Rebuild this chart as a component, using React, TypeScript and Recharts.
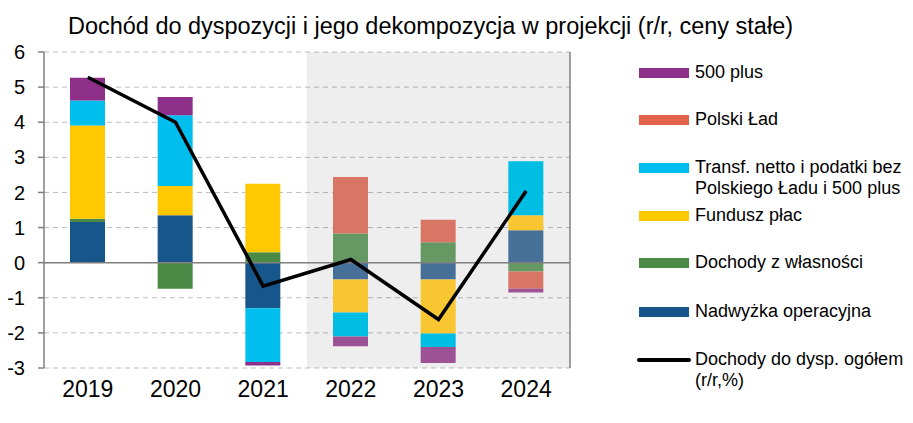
import { Bar, CartesianGrid, Cell, ComposedChart, Line, ReferenceArea, ReferenceLine, XAxis, YAxis } from 'recharts';

// lata i składowe (pp, r/r)
const years = ['2019', '2020', '2021', '2022', '2023', '2024'];
const nadwyzka = [1.16, 1.35, -1.3, -0.48, -0.48, 0.92];
const wlasnosc = [0.09, -0.74, 0.3, 0.83, 0.58, -0.25];
const fundusz = [2.66, 0.83, 1.95, -0.94, -1.54, 0.43];
const transfery = [0.71, 2.02, -1.53, -0.68, -0.38, 1.54];
const polskiLad = [0, 0, 0, 1.61, 0.64, -0.49];
const plus500 = [0.65, 0.52, -0.1, -0.28, -0.46, -0.11];
const ogolem = [5.28, 4.0, -0.67, 0.09, -1.62, 2.04];
const yTicks = [-3, -2, -1, 0, 1, 2, 3, 4, 5, 6];
const firstForecast = '2022';

const data = years.map((year, i) => ({
	year,
	nadwyzka: nadwyzka[i],
	wlasnosc: wlasnosc[i],
	fundusz: fundusz[i],
	transfery: transfery[i],
	polskiLad: polskiLad[i],
	plus500: plus500[i],
	ogolem: ogolem[i],
}));

// [kolor historyczny, kolor prognozy]
const series = [
	{ key: 'nadwyzka', name: 'Nadwyżka operacyjna', colors: ['#17568A', '#477099'] },
	{ key: 'wlasnosc', name: 'Dochody z własności', colors: ['#4A8A45', '#659862'] },
	{ key: 'fundusz', name: 'Fundusz płac', colors: ['#FFC800', '#F8C630'] },
	{ key: 'transfery', name: 'Transf. netto i podatki bez Polskiego Ładu i 500 plus', colors: ['#00BFEE', '#00BDE3'] },
	{ key: 'polskiLad', name: 'Polski Ład', colors: ['#E0624A', '#D87565'] },
	{ key: 'plus500', name: '500 plus', colors: ['#8E2F8A', '#9C5295'] },
];

const legendItems = [
	{ lines: ['500 plus'], color: '#8E2F8A', y: 73 },
	{ lines: ['Polski Ład'], color: '#E0624A', y: 120 },
	{ lines: ['Transf. netto i podatki bez', 'Polskiego Ładu i 500 plus'], color: '#00BFEE', y: 168 },
	{ lines: ['Fundusz płac'], color: '#FFC800', y: 216 },
	{ lines: ['Dochody z własności'], color: '#4A8A45', y: 263 },
	{ lines: ['Nadwyżka operacyjna'], color: '#17568A', y: 312 },
	{ lines: ['Dochody do dysp. ogółem', '(r/r,%)'], color: '#000', y: 360, line: true },
];

const font = 'Liberation Sans, Arial, sans-serif';

export default function App() {
	const forecastStart = years.indexOf(firstForecast);
	return (
		<div style={{ position: 'absolute', left: 0, top: 0, width: 913, height: 423, background: '#fff', fontFamily: font }}>
			<svg width={913} height={45} style={{ position: 'absolute', left: 0, top: 0 }}>
				<text x={68} y={34} fontSize={23} fontFamily={font} fill='#000' textLength={725} lengthAdjust='spacingAndGlyphs'>
					Dochód do dyspozycji i jego dekompozycja w projekcji (r/r, ceny stałe)
				</text>
			</svg>
			<ComposedChart
				width={913}
				height={423}
				data={data}
				stackOffset='sign'
				margin={{ top: 52, right: 303, bottom: 15, left: 4 }}>
				<ReferenceArea
					x1={firstForecast}
					yAxisId='left'
					fill='#000'
					fillOpacity={0.065}
					stroke='none'
				/>
				<CartesianGrid
					yAxisId='left'
					vertical={false}
					stroke='#BDBDBD'
					strokeDasharray='5 4'
				/>
				<XAxis
					dataKey='year'
					height={40}
					axisLine={false}
					tickLine={false}
					tickSize={0}
					tickMargin={13}
					tick={{ fontSize: 23, fill: '#000', fontFamily: font }}
				/>
				<YAxis
					yAxisId='left'
					width={40}
					domain={[-3, 6]}
					ticks={yTicks}
					interval={0}
					axisLine={{ stroke: '#808080', strokeWidth: 1.5 }}
					tickLine={{ stroke: '#808080', strokeWidth: 1.5 }}
					tickSize={6}
					tickMargin={13}
					tick={{ fontSize: 20, fill: '#000', fontFamily: font }}
				/>
				<YAxis
					yAxisId='right'
					orientation='right'
					width={40}
					domain={[-3, 6]}
					ticks={yTicks}
					interval={0}
					axisLine={{ stroke: '#808080', strokeWidth: 1.5 }}
					tickLine={{ stroke: '#808080', strokeWidth: 1.5 }}
					tickSize={6}
					tickMargin={13}
					tick={{ fontSize: 20, fill: '#000', fontFamily: font, textAnchor: 'start' }}
				/>
				{series.map((s) => (
					<Bar
						key={s.key}
						dataKey={s.key}
						name={s.name}
						yAxisId='left'
						stackId='a'
						barSize={35}
						isAnimationActive={false}>
						{data.map((d, index) => (
							<Cell
								key={`cell-${s.key}-${index}`}
								fill={index >= forecastStart ? s.colors[1] : s.colors[0]}
							/>
						))}
					</Bar>
				))}
				<ReferenceLine
					y={0}
					yAxisId='left'
					stroke='#808080'
					strokeWidth={1.5}
				/>
				<Line
					dataKey='ogolem'
					name='Dochody do dysp. ogółem (r/r,%)'
					yAxisId='left'
					stroke='#000'
					strokeWidth={3.5}
					dot={false}
					activeDot={false}
					isAnimationActive={false}
				/>
			</ComposedChart>
			<div style={{ position: 'absolute', left: 0, top: 0 }}>
				{legendItems.map((item) => (
					<div key={item.lines[0]}>
						<div
							style={{
								position: 'absolute',
								left: item.line ? 637 : 639,
								top: item.line ? item.y - 2 : item.y - 5,
								width: item.line ? 54 : 50,
								height: item.line ? 4 : 10,
								background: item.color,
								borderRadius: item.line ? 2 : 0,
							}}
						/>
						<div
							style={{
								position: 'absolute',
								left: 695,
								top: item.y - 11,
								fontSize: 18,
								lineHeight: '21px',
								color: '#000',
								whiteSpace: 'nowrap',
							}}>
							{item.lines.map((l) => (
								<div key={l}>{l}</div>
							))}
						</div>
					</div>
				))}
			</div>
		</div>
	);
}
